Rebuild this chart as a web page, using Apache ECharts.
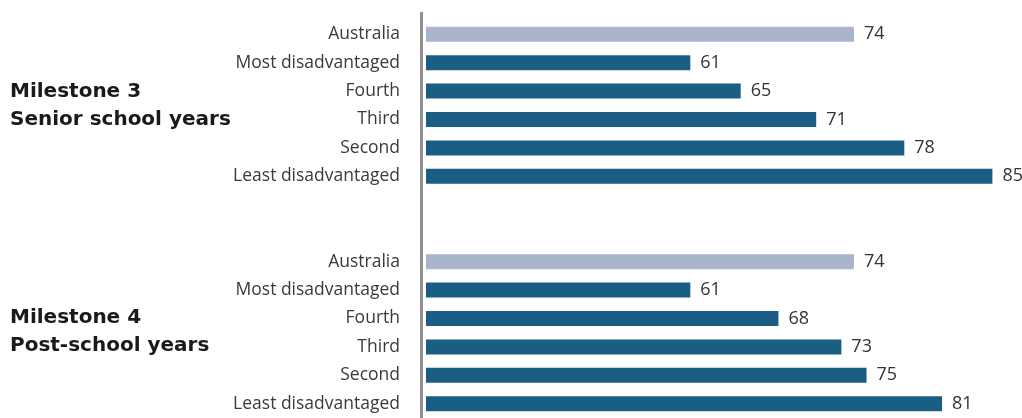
<!DOCTYPE html>
<html>
<head>
<meta charset="utf-8">
<script src="https://cdn.jsdelivr.net/npm/echarts@6/dist/echarts.min.js"></script>
<style>
  html, body { margin: 0; padding: 0; background: #fff; }
  #main { width: 1022px; height: 418px; }
</style>
</head>
<body>
<div id="main"></div>
<script>
// categories, top to bottom inside each milestone
var categories = ['Australia', 'Most disadvantaged', 'Fourth', 'Third', 'Second', 'Least disadvantaged'];
// Milestone 3 - Senior school years (%)
var milestone3 = [74, 61, 65, 71, 78, 85];
// Milestone 4 - Post-school years (%)
var milestone4 = [74, 61, 68, 73, 75, 81];
var groupTitles = [
    ['Milestone 3', 'Senior school years'],
    ['Milestone 4', 'Post-school years']
];

var darkBlue = '#1b5e84';
var lightBlue = '#a8b5cd';
var font = 'Open Sans';
var titleFont = 'DejaVu Sans';

// two empty rows between the groups
var yData = categories.concat(['', ''], categories);

function toItems(values) {
    return values.map(function (v, i) {
        return {
            value: v,
            itemStyle: { color: i === 0 ? lightBlue : darkBlue }
        };
    });
}
var barData = toItems(milestone3).concat([null, null], toItems(milestone4));

var myChart = echarts.init(document.getElementById('main'));

function titleText(x, y, text) {
    return {
        type: 'text',
        style: {
            x: x, y: y, text: text,
            fontFamily: titleFont, fontWeight: 'bold', fontSize: 20,
            fill: '#1a1a1a', verticalAlign: 'middle'
        }
    };
}

var option = {
    animation: false,
    grid: {
        left: 426,
        right: 17,
        top: 20,
        height: 400
    },
    xAxis: {
        type: 'value',
        min: 40,
        max: 86,
        show: false
    },
    yAxis: {
        type: 'category',
        inverse: true,
        data: yData,
        axisLine: { show: false },
        axisTick: { show: false },
        axisLabel: {
            margin: 26,
            fontFamily: font,
            fontSize: 17.5,
            color: '#3a3a3a'
        }
    },
    series: [{
        type: 'bar',
        barWidth: 15,
        data: barData,
        label: {
            show: true,
            position: 'right',
            distance: 10,
            fontFamily: font,
            fontSize: 18,
            color: '#333'
        }
    }],
    graphic: [
        {
            type: 'rect',
            shape: { x: 420, y: 12, width: 3, height: 406 },
            style: { fill: '#8f8f8f' }
        },
        titleText(10, 92, groupTitles[0][0]),
        titleText(10, 120, groupTitles[0][1]),
        titleText(10, 318, groupTitles[1][0]),
        titleText(10, 346, groupTitles[1][1])
    ]
};

myChart.setOption(option);
</script>
</body>
</html>
